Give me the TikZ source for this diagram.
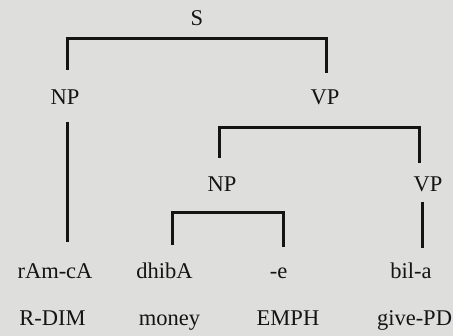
\documentclass[tikz,border=0pt]{standalone}
\usepackage{fontspec}
\setmainfont{Liberation Serif}
\usetikzlibrary{calc}
\definecolor{paper}{RGB}{222,222,220}
\definecolor{ink}{RGB}{20,20,20}
\tikzset{
  lab/.style={anchor=base, inner sep=0pt, text=ink, font=\fontsize{22.5}{26}\selectfont},
  br/.style={draw=ink, line width=3pt}
}
\begin{document}
\begin{tikzpicture}[x=1pt,y=1pt]
\fill[paper] (0,0) rectangle (453,336);
\useasboundingbox (0,0) rectangle (453,336);
\node[lab] (S) at (197,310) {S};
\node[lab] (NP1) at (65,231) {NP};
\node[lab] (VP1) at (325,231) {VP};
\node[lab] (NP2) at (222,144) {NP};
\node[lab] (VP2) at (428,144) {VP};
\node[lab] (w1) at (55,57) {rAm-cA};
\node[lab] (w2) at (164.5,57) {dhibA};
\node[lab] (w3) at (278.5,57) {-e};
\node[lab] (w4) at (411,57) {bil-a};
\node[lab] (g1) at (52.5,10) {R-DIM};
\node[lab] (g2) at (169.5,10) {money};
\node[lab] (g3) at (288,10) {EMPH};
\node[lab] (g4) at (414.5,10) {give-PD};
\draw[br] ($(NP1.base)+(2,35)$) |- ($(S.base)+(0,-13)$) -| ($(VP1.base)+(1,32)$);
\draw[br] ($(NP1.base)+(2,-17)$) -- ($(w1.base)+(12,37)$);
\draw[br] ($(NP2.base)+(-3,34)$) |- ($(VP1.base)+(0,-23)$) -| ($(VP2.base)+(-9,29)$);
\draw[br] ($(w2.base)+(7.5,34)$) |- ($(NP2.base)+(0,-21)$) -| ($(w3.base)+(4.5,32)$);
\draw[br] ($(VP2.base)+(-6,-10)$) -- ($(w4.base)+(11,31)$);
\end{tikzpicture}
\end{document}
